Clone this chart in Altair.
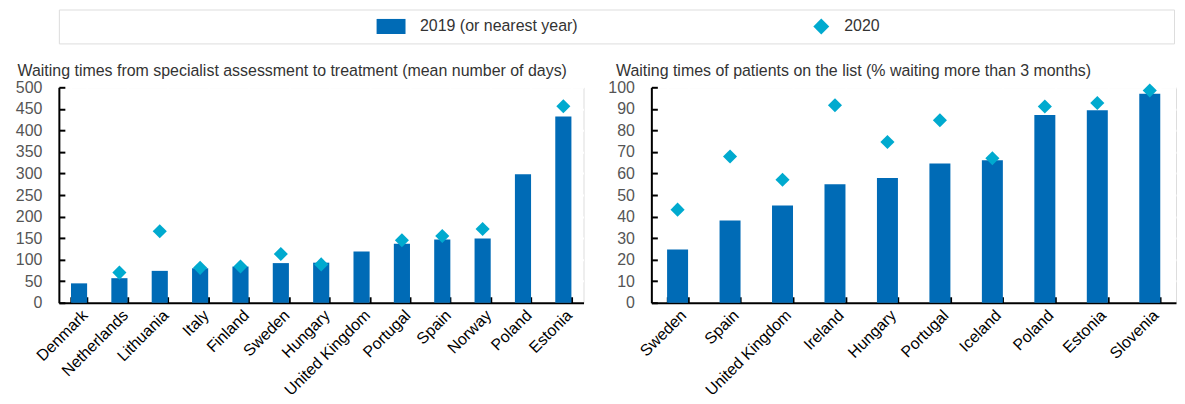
import altair as alt
import pandas as pd

# ---------------- data ----------------
series = ["2019 (or nearest year)", "2020"]

left_countries = ["Denmark", "Netherlands", "Lithuania", "Italy", "Finland", "Sweden",
                  "Hungary", "United Kingdom", "Portugal", "Spain", "Norway", "Poland", "Estonia"]
left_2019 = [45, 57, 74, 80, 84, 92, 93, 119, 137, 147, 149, 298, 432]
left_2020 = [None, 70, 166, 81, 84, 113, 89, None, 145, 155, 171, None, 456]

right_countries = ["Sweden", "Spain", "United Kingdom", "Ireland", "Hungary", "Portugal",
                   "Iceland", "Poland", "Estonia", "Slovenia"]
right_2019 = [24.7, 38.2, 45.1, 55.0, 57.9, 64.6, 66.1, 87.1, 89.3, 97.0]
right_2020 = [43.2, 67.9, 57.1, 91.7, 74.6, 84.7, 67.1, 91.1, 92.7, 98.5]

left_title = "Waiting times from specialist assessment to treatment (mean number of days)"
right_title = "Waiting times of patients on the list (% waiting more than 3 months)"

# ---------------- style ----------------
FONT = "Liberation Sans, Arial, sans-serif"
BLUE = "#006BB6"
CYAN = "#00AACF"
W = 526
H = 216
FS = 16
RECT = "M-1,-0.52L1,-0.52L1,0.52L-1,0.52Z"


def panel(countries, v19, v20, ymax, step, title, title_x):
    df = pd.DataFrame({"country": countries, "v2019": v19, "v2020": v20})
    xs = alt.Scale(domain=countries, paddingInner=0.6, paddingOuter=0.3)
    ys = alt.Scale(domain=[0, ymax], nice=False)
    yvals = list(range(0, ymax + 1, step))

    x_main = alt.X("country:N", scale=xs, title=None,
                   axis=alt.Axis(labelAngle=-45, labelFont=FONT, labelFontSize=FS,
                                 labelColor="black", labelPadding=4, ticks=False,
                                 tickBand="extent", grid=True, gridColor="white",
                                 gridWidth=2, domainColor="black", domainWidth=2,
                                 labelOverlap=False))
    y_main = alt.Y("v2019:Q", scale=ys, title=title,
                   axis=alt.Axis(values=yvals, labelFont=FONT, labelFontSize=FS,
                                 labelColor="#555555", labelPadding=17, ticks=False,
                                 grid=True, gridColor="white", gridWidth=2,
                                 domainColor="black", domainWidth=2,
                                 titleAngle=0, titleX=title_x, titleY=-12,
                                 titleAlign="left", titleBaseline="alphabetic",
                                 titleFont=FONT, titleFontSize=FS,
                                 titleFontWeight="normal", titleColor="#333333"))
    bars = alt.Chart(df).mark_bar(color=BLUE).encode(x=x_main, y=y_main)

    x_in = alt.X("country:N", scale=xs, title=None,
                 axis=alt.Axis(orient="top", offset=-H, labels=False, domain=False,
                               grid=False, ticks=True, tickBand="extent", tickSize=6,
                               tickWidth=2, tickColor="black"))
    y_in = alt.Y("v2020:Q", scale=ys, title=None,
                 axis=alt.Axis(orient="right", offset=-W, labels=False, domain=False,
                               grid=False, ticks=True, tickSize=6, tickWidth=2,
                               tickColor="black", values=yvals))
    pts = (alt.Chart(df)
           .transform_filter("isValid(datum.v2020)")
           .mark_point(shape="diamond", filled=True, size=200, color=CYAN, opacity=1)
           .encode(x=x_in, y=y_in))

    return (alt.layer(bars, pts)
            .resolve_axis(x="independent", y="independent")
            .properties(width=W, height=H))


left = panel(left_countries, left_2019, left_2020, 500, 50, left_title, -42)
right = panel(right_countries, right_2019, right_2020, 100, 10, right_title, -36)

# ---------------- legend row ----------------
leg_df = pd.DataFrame({"series": series})
lx = alt.X("series:N", sort=series,
           scale=alt.Scale(type="point", padding=0.796, align=0.485), axis=None)
sym = alt.Chart(leg_df).mark_point(filled=True, opacity=1).encode(
    x=lx,
    shape=alt.Shape("series:N", scale=alt.Scale(domain=series, range=[RECT, "diamond"]), legend=None),
    color=alt.Color("series:N", scale=alt.Scale(domain=series, range=[BLUE, CYAN]), legend=None),
    size=alt.Size("series:O", scale=alt.Scale(domain=series, range=[841, 256]), legend=None),
)
txt1 = (alt.Chart(leg_df).transform_filter(alt.datum.series == series[0])
        .mark_text(align="left", dx=29, font=FONT, fontSize=FS, color="#333333")
        .encode(x=lx, text="series:N"))
txt2 = (alt.Chart(leg_df).transform_filter(alt.datum.series == series[1])
        .mark_text(align="left", dx=23, font=FONT, fontSize=FS, color="#333333")
        .encode(x=lx, text="series:N"))
# invisible axis (label centred vertically) so that the legend box lines up with the plot area
spacer = alt.Chart(leg_df).mark_point(opacity=0).encode(
    y=alt.Y(datum=500, scale=alt.Scale(domain=[0, 1000]),
            axis=alt.Axis(values=[500], labelColor="transparent", labelFont=FONT,
                          labelFontSize=FS, labelPadding=17, ticks=False,
                          domain=False, grid=False, title=None)))
legend = alt.layer(sym, txt1, txt2, spacer).properties(width=2 * W + 66, height=34)

row = alt.hconcat(left, right, spacing=22)

chart = (alt.vconcat(legend, row, spacing=17)
         .properties(padding={"left": 6, "top": 0, "right": 0, "bottom": 0})
         .configure_view(fill="#f0f0f0", stroke="transparent")
         .configure(background="white"))

chart.save("out.html", embed_options={"renderer": "svg", "actions": False})
